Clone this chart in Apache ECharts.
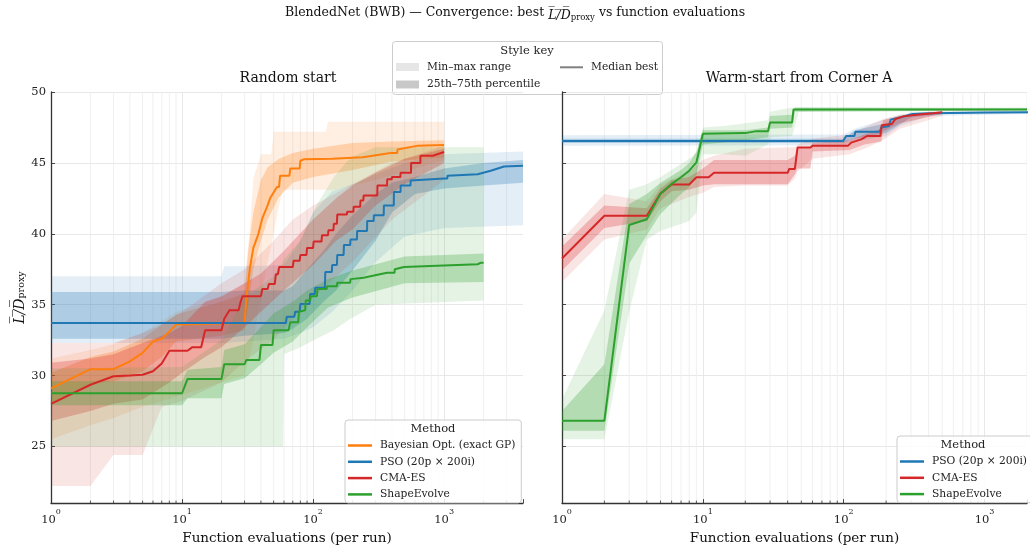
<!DOCTYPE html>
<html><head><meta charset="utf-8">
<script src="https://cdn.jsdelivr.net/npm/echarts@6/dist/echarts.min.js"></script>
<style>html,body{margin:0;padding:0;background:#fff}#c{width:1030px;height:550px}</style>
</head><body><div id="c"></div>
<script>
// ---------------- DATA ----------------
const METHODS = ['Bayesian Opt. (exact GP)', 'PSO (20p \u00d7 200i)', 'CMA-ES', 'ShapeEvolve'];
const X_TICKS_MINOR = [2,3,4,5,6,7,8,9,20,30,40,50,60,70,80,90,200,300,400,500,600,700,800,900,2000,3000];

// Random start — median best [evals, value]
const L_BO_MED = [[1,29.1],[2,30.45],[3,30.45],[4,31.0],[5,31.6],[6,32.4],[7,32.6],[8,33.1],[9,33.6],[30,33.7],[31,35.5],[33,37.6],[35,39.0],[38,39.9],[41,41.1],[45,42.0],[47,42.5],[53,43.3],[55,43.3],[56,44.1],[66,44.1],[67,44.6],[79,44.6],[80,45.15],[85,45.25],[140,45.3],[240,45.4],[390,45.7],[439,45.7],[440,45.95],[620,46.2],[1000,46.27]];
const L_PSO_MED = [[1,33.7],[62,33.7],[63,34.15],[72,34.15],[73,34.5],[79,34.5],[80,35.05],[94,35.05],[95,35.75],[103,35.75],[104,36.2],[123,36.2],[124,37.3],[139,37.3],[140,37.8],[152,37.8],[153,38.5],[171,38.5],[172,39.2],[192,39.2],[193,39.6],[216,39.6],[217,40.2],[258,40.2],[259,40.9],[290,40.9],[291,41.3],[346,41.3],[347,42.0],[413,42.0],[414,42.95],[465,42.95],[466,43.4],[554,43.4],[555,43.75],[1000,43.9],[1059,43.9],[1060,44.1],[1800,44.2],[2270,44.45],[2870,44.75],[4000,44.8]];
const L_CMA_MED = [[1,28.0],[2,29.35],[3,29.95],[4,30.0],[5,30.05],[6,30.3],[7,30.85],[8,31.75],[11,31.75],[12,32.0],[14,32.0],[15,33.2],[20,33.2],[21,34.0],[23,34.6],[27,34.6],[28,35.2],[29,35.6],[40,35.6],[41,36.1],[45,36.1],[46,36.45],[51,36.45],[52,37.15],[54,37.15],[55,37.65],[70,37.65],[71,38.1],[79,38.1],[80,38.5],[89,38.5],[90,39.0],[100,39.0],[101,39.45],[116,39.45],[117,39.9],[130,39.9],[131,40.25],[143,40.25],[144,40.7],[152,40.7],[153,41.35],[181,41.35],[182,41.55],[203,41.55],[204,41.9],[229,41.9],[230,42.35],[242,42.35],[243,42.7],[309,42.7],[310,43.4],[367,43.4],[368,43.85],[399,43.85],[400,44.0],[464,44.0],[465,44.3],[559,44.3],[560,45.0],[659,45.0],[660,45.5],[819,45.5],[820,45.6],[1000,45.77]];
const L_SE_MED = [[1,28.75],[10,28.75],[11,29.75],[20,29.75],[21,30.8],[30,30.8],[31,31.1],[39,31.1],[40,32.15],[49,32.15],[50,33.2],[65,33.2],[67,33.75],[77,33.75],[78,34.5],[87,34.6],[88,35.3],[95,35.3],[96,35.6],[107,35.6],[108,36.1],[127,36.1],[128,36.3],[152,36.3],[153,36.55],[192,36.55],[193,36.8],[243,36.9],[291,37.05],[367,37.25],[419,37.25],[420,37.5],[494,37.65],[787,37.72],[1800,37.85],[1900,37.95],[2000,37.95]];

// Random start — bands [evals, low, high]
const L_BO_IQR = [[1,27.9,30.2],[2,29.4,31.3],[3,29.6,31.7],[5,30.3,32.6],[7,31.3,33.6],[9,32.4,34.3],[20,32.8,35.2],[30,33.2,35.8],[32,35.0,38.8],[35,37.5,41.5],[40,39.5,43.8],[45,41.0,44.7],[55,42.6,45.3],[70,43.6,45.7],[100,44.0,46.0],[200,44.5,46.4],[400,45.1,46.5],[1000,45.4,46.6]];
const L_BO_MM = [[1,25.5,31.2],[2,26.5,31.8],[3,27.0,32.2],[5,27.8,33.0],[9,28.5,34.5],[20,29.5,35.5],[30,30.0,36.5],[33,31.5,40.5],[35,32.5,43.9],[40,35.5,45.6],[45,38.0,45.6],[48,39.2,45.6],[50,40.0,47.2],[55,42.0,47.2],[59,43.1,47.2],[125,43.1,47.2],[130,43.1,47.9],[150,43.1,47.9],[300,43.8,47.9],[600,44.6,47.9],[1000,45.2,47.9]];
const L_PSO_IQR = [[1,32.6,35.9],[20,32.6,35.9],[30,32.8,36.0],[60,33.0,36.0],[70,33.3,36.3],[90,34.0,37.5],[120,35.2,38.8],[150,36.0,40.0],[200,37.4,41.3],[300,39.5,42.8],[400,41.5,43.6],[600,42.8,44.0],[1000,43.2,44.6],[2000,43.4,45.0],[4000,43.6,45.2]];
const L_PSO_MM = [[1,32.3,37.0],[20,32.3,37.0],[21,32.3,37.7],[30,32.4,37.7],[60,32.6,37.8],[80,33.0,39.5],[100,33.4,41.5],[140,34.5,43.0],[200,36.0,43.5],[300,38.0,44.2],[500,39.8,45.0],[1000,40.4,45.6],[4000,40.6,45.8]];
const L_CMA_IQR = [[1,26.8,30.9],[2,27.5,31.2],[3,28.0,31.5],[5,28.3,32.3],[8,29.5,33.0],[10,30.2,33.5],[15,31.3,35.2],[20,32.0,35.6],[30,33.4,36.5],[40,34.5,37.2],[60,36.0,38.8],[100,37.8,41.0],[150,39.5,42.5],[200,40.3,43.4],[300,42.0,44.3],[500,43.5,45.3],[1000,45.0,46.0]];
const L_CMA_MM = [[1,22.2,32.3],[2,22.2,32.3],[3,24.4,32.3],[5,24.4,33.0],[7,27.8,33.6],[10,28.2,34.5],[20,29.5,36.5],[30,31.0,37.5],[50,32.5,39.5],[70,34.0,41.0],[100,35.5,42.0],[200,38.0,43.5],[400,41.0,45.0],[1000,43.8,46.2]];
const L_SE_IQR = [[1,27.9,29.6],[10,27.9,29.6],[11,28.4,30.4],[20,28.4,30.6],[21,29.4,31.8],[30,29.8,32.2],[40,30.8,33.4],[50,31.6,34.4],[70,32.4,35.2],[90,33.4,36.0],[130,34.8,36.8],[200,35.5,37.4],[500,36.5,38.4],[2000,36.6,38.6]];
const L_SE_MM = [[1,25.0,30.5],[10,25.0,30.6],[20,25.0,32.5],[30,25.0,35.5],[50,25.0,37.0],[59,25.0,38.0],[60,31.5,38.2],[80,32.0,39.5],[106,32.6,42.0],[144,33.2,44.0],[193,34.0,45.4],[300,35.0,46.1],[2000,35.3,46.1]];

// Warm-start from Corner A — median best
const R_PSO_MED = [[1,46.55],[99,46.55],[104,46.9],[119,46.9],[121,47.19],[180,47.19],[185,47.5],[210,47.6],[215,48.05],[250,48.2],[310,48.45],[430,48.5],[1000,48.55],[4000,48.58]];
const R_CMA_MED = [[1,38.25],[2,41.27],[4,41.27],[5,42.83],[6,43.48],[8,43.48],[9,43.99],[11,43.99],[12,44.3],[40,44.3],[41,44.57],[45,44.57],[47,46.08],[58,46.08],[60,46.2],[107,46.2],[113,46.43],[133,46.66],[147,46.9],[182,46.9],[186,47.65],[220,47.75],[233,48.1],[265,48.28],[330,48.4],[430,48.5],[500,48.57]];
const R_SE_MED = [[1,26.81],[2,26.81],[3,40.62],[4,41.02],[5,42.83],[6,43.52],[7,43.99],[8,44.45],[9,45.03],[10,47.05],[20,47.1],[24,47.24],[29,47.24],[30,47.85],[43,47.85],[44,48.77],[2000,48.77]];

// Warm-start — bands
const R_PSO_IQR = [[1,46.4,46.7],[99,46.4,46.7],[120,46.7,47.3],[200,47.1,47.8],[300,48.2,48.55],[500,48.45,48.6],[4000,48.52,48.62]];
const R_PSO_MM = [[1,46.2,46.95],[99,46.25,47.0],[120,46.5,47.4],[200,46.9,48.1],[250,47.6,48.4],[400,48.3,48.6],[4000,48.5,48.65]];
const R_CMA_IQR = [[1,37.4,39.1],[2,40.4,42.0],[4,40.9,41.8],[5,42.3,43.2],[6,43.0,43.8],[8,43.1,44.0],[10,43.4,44.6],[12,43.5,45.2],[40,43.5,45.2],[45,44.2,45.5],[47,44.6,46.1],[58,44.6,46.1],[60,45.8,46.4],[110,45.9,46.6],[140,46.3,47.0],[185,46.5,47.4],[190,47.2,48.0],[250,47.8,48.3],[500,48.45,48.62]];
const R_CMA_MM = [[1,36.6,39.6],[2,39.6,42.8],[4,40.3,42.3],[5,41.8,43.5],[8,42.6,44.4],[10,42.9,45.2],[12,43.3,45.5],[20,43.4,46.0],[40,43.4,46.1],[45,43.9,46.1],[47,44.4,46.3],[60,45.3,46.7],[110,45.6,47.0],[140,46.0,47.5],[190,46.6,48.1],[250,47.4,48.4],[500,48.3,48.7]];
const R_SE_IQR = [[1,26.1,27.5],[2,26.1,30.8],[3,37.9,42.1],[4,39.9,42.8],[5,41.4,43.6],[7,42.8,44.5],[8,43.3,45.0],[9,44.2,45.8],[10,46.3,47.3],[20,46.6,47.3],[29,46.8,47.5],[30,47.4,48.3],[43,47.5,48.4],[45,48.6,48.9],[2000,48.7,48.85]];
const R_SE_MM = [[1,25.5,28.3],[2,25.5,34.6],[3,34.5,43.1],[4,39.6,43.5],[5,40.2,44.0],[8,40.9,45.3],[9,41.5,45.7],[10,45.6,47.5],[14,45.6,47.6],[20,45.5,47.8],[29,46.3,48.0],[30,46.8,48.6],[43,46.9,48.9],[48,48.6,48.9],[2000,48.7,48.9]];

// ---------------- STYLE ----------------
const FONT = "'DejaVu Serif', serif";
const COL = ['#ff7f0e', '#1f77b4', '#d62728', '#2ca02c'];
function rgba(hex, a) {
  const n = parseInt(hex.slice(1), 16);
  return 'rgba(' + (n >> 16) + ',' + ((n >> 8) & 255) + ',' + (n & 255) + ',' + a + ')';
}
const A_MM = 0.12, A_IQR = 0.27;
const OVL = 'L\u0305/\u0305D\u0305';

function band(data, color, alpha, gi, z) {
  return {
    type: 'custom', xAxisIndex: gi, yAxisIndex: gi, clip: true, silent: true, z: z,
    data: data, encode: { x: 0, y: [1, 2] },
    renderItem: function (params, api) {
      if (params.dataIndex !== 0) return null;
      const up = data.map(d => api.coord([d[0], d[2]]));
      const lo = data.map(d => api.coord([d[0], d[1]])).reverse();
      return { type: 'polygon', shape: { points: up.concat(lo) }, style: { fill: rgba(color, alpha) } };
    }
  };
}
function line(name, data, color, gi) {
  return {
    type: 'line', name: name, xAxisIndex: gi, yAxisIndex: gi, data: data, color: color,
    showSymbol: false, symbol: 'none', clip: true, z: 5, silent: true,
    lineStyle: { width: 2, color: color }
  };
}
function minorGrid(gi) {
  return {
    type: 'custom', xAxisIndex: gi, yAxisIndex: gi, clip: true, silent: true, z: 0,
    data: X_TICKS_MINOR.map(v => [v]), encode: { x: 0 },
    renderItem: function (params, api) {
      const cs = params.coordSys;
      const x = api.coord([api.value(0), 30])[0];
      const yb = cs.y + cs.height;
      return { type: 'group', children: [
        { type: 'line', shape: { x1: x, y1: cs.y, x2: x, y2: yb }, style: { stroke: '#ececec', lineWidth: 0.8 } },
        { type: 'line', shape: { x1: x, y1: yb, x2: x, y2: yb - 2.5 }, style: { stroke: '#333', lineWidth: 0.8 } }
      ] };
    }
  };
}

function xAxis(gi, max) {
  return {
    type: 'log', logBase: 10, gridIndex: gi, min: 1, max: max,
    name: 'Function evaluations (per run)', nameLocation: 'middle', nameGap: 23,
    nameTextStyle: { fontFamily: FONT, fontSize: 13.5, color: '#111' },
    axisLine: { show: true, onZero: false, lineStyle: { color: '#333', width: 1.3 } },
    axisTick: { show: true, inside: true, length: 4, lineStyle: { color: '#333', width: 0.9 } },
    splitLine: { show: true, showMaxLine: false, lineStyle: { color: '#e2e2e2', width: 0.8 } },
    axisLabel: {
      margin: 5, fontFamily: FONT, color: '#222',
      formatter: function (v) {
        const e = Math.round(Math.log10(v));
        if (Math.abs(Math.pow(10, e) - v) > 1e-6 * v) return '';
        return '{b|10}{p|' + e + '}';
      },
      rich: {
        b: { fontFamily: FONT, fontSize: 11.5, lineHeight: 18, verticalAlign: 'bottom', color: '#222' },
        p: { fontFamily: FONT, fontSize: 8, lineHeight: 10, verticalAlign: 'top', color: '#222' }
      }
    }
  };
}
function yAxis(gi, labels) {
  const ax = {
    type: 'value', gridIndex: gi, min: 21, max: 50,
    axisLine: { show: true, onZero: false, lineStyle: { color: '#333', width: 1.3 } },
    axisTick: { show: true, inside: true, length: 4, lineStyle: { color: '#333', width: 0.9 } },
    splitLine: { show: true, lineStyle: { color: '#e2e2e2', width: 0.8 } },
    axisLabel: { show: labels, showMinLabel: false, margin: 5, fontFamily: FONT, fontSize: 11.5, color: '#222' }
  };
  if (labels) {
    ax.name = '{m|' + OVL + '}{s|proxy}';
    ax.nameLocation = 'middle';
    ax.nameRotate = 90;
    ax.nameGap = 24;
    ax.nameTextStyle = {
      fontFamily: FONT, color: '#111',
      rich: {
        m: { fontFamily: FONT, fontSize: 14, fontStyle: 'italic', lineHeight: 22, verticalAlign: 'bottom', color: '#111' },
        s: { fontFamily: FONT, fontSize: 9.5, lineHeight: 12, verticalAlign: 'bottom', color: '#111' }
      }
    };
  }
  return ax;
}

const series = [
  minorGrid(0), minorGrid(1),
  band(L_BO_MM, COL[0], A_MM, 0, 1), band(L_BO_IQR, COL[0], A_IQR, 0, 1),
  band(L_PSO_MM, COL[1], A_MM, 0, 1), band(L_PSO_IQR, COL[1], A_IQR, 0, 1),
  band(L_CMA_MM, COL[2], A_MM, 0, 1), band(L_CMA_IQR, COL[2], A_IQR, 0, 1),
  band(L_SE_MM, COL[3], A_MM, 0, 1), band(L_SE_IQR, COL[3], A_IQR, 0, 1),
  band(R_PSO_MM, COL[1], A_MM, 1, 1), band(R_PSO_IQR, COL[1], A_IQR, 1, 1),
  band(R_CMA_MM, COL[2], A_MM, 1, 1), band(R_CMA_IQR, COL[2], A_IQR, 1, 1),
  band(R_SE_MM, COL[3], A_MM, 1, 1), band(R_SE_IQR, COL[3], A_IQR, 1, 1),
  line(METHODS[0], L_BO_MED, COL[0], 0),
  line(METHODS[1], L_PSO_MED, COL[1], 0),
  line(METHODS[2], L_CMA_MED, COL[2], 0),
  line(METHODS[3], L_SE_MED, COL[3], 0),
  line(METHODS[1], R_PSO_MED, COL[1], 1),
  line(METHODS[2], R_CMA_MED, COL[2], 1),
  line(METHODS[3], R_SE_MED, COL[3], 1)
];

const legendBase = {
  orient: 'vertical', icon: 'rect', itemWidth: 24, itemHeight: 2.5, itemGap: 5.3,
  padding: [20, 6, 3, 3], backgroundColor: 'rgba(255,255,255,0.85)', borderColor: '#cccccc',
  borderWidth: 1, borderRadius: 3, selectedMode: false,
  textStyle: { fontFamily: FONT, fontSize: 10.7, color: '#222', padding: [0, 0, 0, 3] }
};

const chart = echarts.init(document.getElementById('c'), null, { renderer: 'canvas' });
chart.setOption({
  animation: false,
  backgroundColor: '#ffffff',
  title: {
    text: 'BlendedNet (BWB) \u2014 Convergence: best {m|' + OVL + '}{s|proxy} vs function evaluations',
    left: 'center', top: -1,
    textStyle: {
      fontFamily: FONT, fontSize: 12.5, fontWeight: 'normal', color: '#111',
      rich: {
        m: { fontFamily: FONT, fontSize: 12.5, fontStyle: 'italic', lineHeight: 18, verticalAlign: 'bottom', color: '#111' },
        s: { fontFamily: FONT, fontSize: 8.5, lineHeight: 10, verticalAlign: 'bottom', color: '#111' }
      }
    }
  },
  grid: [
    { left: 51, top: 92, width: 472, height: 417 },
    { left: 562, top: 92, width: 474, height: 417 }
  ],
  xAxis: [xAxis(0, 4000), xAxis(1, 2000)],
  yAxis: [yAxis(0, true), yAxis(1, false)],
  legend: [
    Object.assign({}, legendBase, { data: METHODS, left: 345, top: 420 }),
    Object.assign({}, legendBase, { data: METHODS.slice(1), left: 897, top: 436 })
  ],
  graphic: [
    { type: 'text', x: 288, y: 78, z: 50, style: { text: 'Random start', font: "14px 'DejaVu Serif'", fill: '#111', align: 'center', verticalAlign: 'middle' } },
    { type: 'text', x: 799, y: 78, z: 50, style: { text: 'Warm-start from Corner A', font: "14px 'DejaVu Serif'", fill: '#111', align: 'center', verticalAlign: 'middle' } },
    { type: 'text', x: 433, y: 429, z: 200, style: { text: 'Method', font: "11.5px 'DejaVu Serif'", fill: '#222', align: 'center', verticalAlign: 'middle' } },
    { type: 'text', x: 963, y: 445, z: 200, style: { text: 'Method', font: "11.5px 'DejaVu Serif'", fill: '#222', align: 'center', verticalAlign: 'middle' } },
    { type: 'group', z: 200, children: [
      { type: 'rect', shape: { x: 392.5, y: 41.5, width: 270, height: 53, r: 3 }, style: { fill: 'rgba(255,255,255,0.9)', stroke: '#cccccc', lineWidth: 1 } },
      { type: 'text', x: 527, y: 51, style: { text: 'Style key', font: "11.5px 'DejaVu Serif'", fill: '#222', align: 'center', verticalAlign: 'middle' } },
      { type: 'rect', shape: { x: 396, y: 63, width: 23, height: 8 }, style: { fill: '#e6e6e6' } },
      { type: 'text', x: 427, y: 67, style: { text: 'Min\u2013max range', font: "10.7px 'DejaVu Serif'", fill: '#222', align: 'left', verticalAlign: 'middle' } },
      { type: 'rect', shape: { x: 396, y: 80.5, width: 23, height: 8 }, style: { fill: '#c8c8c8' } },
      { type: 'text', x: 427, y: 84, style: { text: '25th\u201375th percentile', font: "10.7px 'DejaVu Serif'", fill: '#222', align: 'left', verticalAlign: 'middle' } },
      { type: 'line', shape: { x1: 560, y1: 67.3, x2: 583, y2: 67.3 }, style: { stroke: '#808080', lineWidth: 2 } },
      { type: 'text', x: 591, y: 67, style: { text: 'Median best', font: "10.7px 'DejaVu Serif'", fill: '#222', align: 'left', verticalAlign: 'middle' } }
    ] }
  ],
  series: series
});
</script></body></html>
